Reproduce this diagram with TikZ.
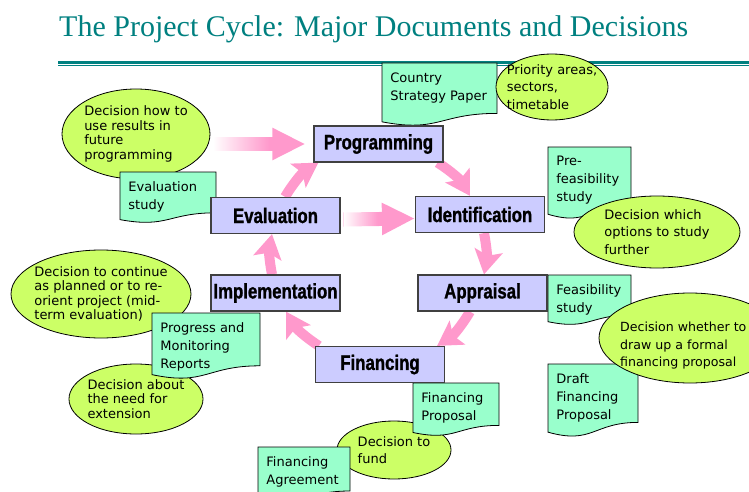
\documentclass[tikz,border=0pt]{standalone}
\usepackage{fontspec}
\setmainfont{DejaVu Sans}
\newfontfamily\headfont{Liberation Serif}
\newfontfamily\stagefont{Liberation Sans}[FakeStretch=0.8, FakeBold=1.2]
\usepackage{xcolor}
\usepackage{tikz}
\usetikzlibrary{shapes.geometric, arrows.meta, positioning, backgrounds, fadings}

\definecolor{headteal}{RGB}{0,128,128}
\definecolor{stagefill}{RGB}{204,204,255}
\definecolor{sheetfill}{RGB}{153,255,204}
\definecolor{bubblefill}{RGB}{204,255,102}
\definecolor{cyclepink}{RGB}{255,153,204}

\tikzfading[name=fadeout, left color=transparent!0, right color=transparent!100]

% document sheet with a wavy lower edge: name, left, top, width, height, text
\newcommand{\docsheet}[6]{%
  \filldraw[sheet] (#2,#3) -- (#2+#4,#3) -- (#2+#4,#3+0.8*#5)
    .. controls (#2+0.5*#4,#3+0.8*#5) and (#2+0.5*#4,#3+1.107*#5) .. (#2,#3+0.934*#5) -- cycle
    node[sheettext] (#1) at (#2+8,#3+9) {#6};
}

\begin{document}
\begin{tikzpicture}[
    x=1pt, y=-1pt,
    stage/.style={rectangle, draw=black!75, fill=stagefill, line width=1.2pt, minimum width=129pt, minimum height=36pt, inner sep=0pt, font=\stagefont\bfseries\fontsize{21}{21}\selectfont},
    sheet/.style={draw=black, fill=sheetfill, line width=0.8pt},
    sheettext/.style={anchor=north west, inner sep=0pt, align=left, font=\fontsize{13}{18}\selectfont},
    bubble/.style={ellipse, draw=black, fill=bubblefill, line width=0.8pt, inner sep=-10pt, align=left},
    tight/.style={font=\fontsize{13}{14.5}\selectfont},
    loose/.style={font=\fontsize{13}{17.5}\selectfont},
    loopway/.style={draw=cyclepink, line width=10pt, -{Stealth[length=24pt, width=28pt, inset=5pt]}},
    inflow/.style={draw=cyclepink, line width=14pt, -{Triangle[length=33pt, width=30pt]}},
    fadecover/.style={fill=white, path fading=fadeout}
]
\useasboundingbox (0,0) rectangle (749,492);
\clip (0,0) rectangle (749,492);

% Title and rule
\node[anchor=base west, inner sep=0pt, text=headteal, font=\headfont\fontsize{30}{30}\selectfont] (title) at (59,37) {The Project Cycle: Major Documents and Decisions};
\draw[headteal, line width=3pt] (58,62.8) -- (749,62.8);
\draw[headteal, line width=0.9pt] (58,65.8) -- (749,65.8);

% Documents tucked under their decision bubbles
\docsheet{csp}{382}{63}{115}{63}{Country\\Strategy Paper}
\docsheet{prefeas}{548}{147}{83}{72}{Pre-\\feasibility\\study}
\docsheet{feas}{548}{275}{83}{50}{Feasibility\\study}
\docsheet{draftprop}{548}{364}{90}{73}{Draft\\Financing\\Proposal}

% Decision bubbles
\node[bubble, loose, minimum width=112pt, minimum height=66pt] (prio) at (552,87) {Priority areas,\\sectors,\\timetable};
\node[bubble, tight, minimum width=148pt, minimum height=90pt] (usedec) at (136,134) {Decision how to\\use results in\\future\\programming};
\node[bubble, loose, minimum width=166pt, minimum height=72pt] (optdec) at (657,232) {Decision which\\options to study\\further};
\node[bubble, tight, minimum width=180pt, minimum height=88pt] (contdec) at (101,294) {Decision to continue\\as planned or to re-\\orient project (mid-\\term evaluation)};
\node[bubble, tight, minimum width=134pt, minimum height=70pt] (extdec) at (136,399) {Decision about\\the need for\\extension};
\node[bubble, minimum width=182pt, minimum height=90pt] (propdec) at (690,338) {};
\node[sheettext, font=\fontsize{12.6}{17.5}\selectfont] (propdectext) at (620,322) {Decision whether to\\draw up a formal\\financing proposal};
\node[bubble, loose, minimum width=114pt, minimum height=58pt] (funddec) at (394,450) {Decision to\\fund};

% Documents lying on top
\docsheet{evalstudy}{120}{172}{96}{51}{Evaluation\\study}
\docsheet{progrep}{152}{313}{108}{66}{Progress and\\Monitoring\\Reports}
\docsheet{finprop}{413}{383}{86}{53}{Financing\\Proposal}
\docsheet{finagr}{258}{447}{92}{55}{Financing\\Agreement}

% Project cycle stages
\node[stage] (prog) at (378.5,144) {Programming};
\node[stage] (ident) at (480,214.5) {Identification};
\node[stage] (appr) at (482.5,293) {Appraisal};
\node[stage] (fin) at (380,364.5) {Financing};
\node[stage] (impl) at (275.5,293) {Implementation};
\node[stage] (eval) at (275.5,215.5) {Evaluation};

% Arrows behind the stages
\begin{scope}[on background layer]
\coordinate (topfeed) at (213,144);
\coordinate (midfeed) at ([xshift=3pt, yshift=-4pt]eval.east);
\draw[inflow] (topfeed) -- ([xshift=-8pt]prog.west);
\fill[fadecover] ([yshift=9pt]topfeed) rectangle ([xshift=56pt, yshift=-9pt]topfeed);
\draw[inflow] (midfeed) -- ([yshift=-4pt]ident.west);
\fill[fadecover] ([yshift=9pt]midfeed) rectangle ([xshift=34pt, yshift=-9pt]midfeed);

\draw[loopway] ([xshift=-6pt]prog.south east) to[bend left=13] ([xshift=-10pt]ident.north);
\draw[loopway] ([xshift=4pt]ident.south) to[bend left=11] ([xshift=1.5pt]appr.north);
\draw[loopway] ([xshift=-12.5pt]appr.south) to[bend left=13] ([xshift=-8pt]fin.north east);
\draw[loopway] ([xshift=4pt]fin.north west) to[bend left=13] ([xshift=10.5pt]impl.south);
\draw[loopway] ([xshift=-3.5pt]impl.north) to[bend left=11] ([xshift=-3.5pt]eval.south);
\draw[loopway] ([xshift=9.5pt]eval.north) to[bend left=13] ([xshift=5pt]prog.south west);
\end{scope}

\end{tikzpicture}
\end{document}
